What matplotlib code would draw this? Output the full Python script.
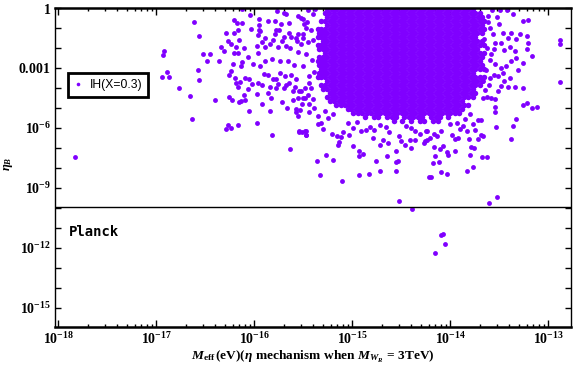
import numpy as np
import matplotlib
matplotlib.use('Agg')
import matplotlib.pyplot as plt
from matplotlib.ticker import FixedLocator, FixedFormatter, LogLocator, NullFormatter
from matplotlib.lines import Line2D

plt.rcParams['mathtext.fontset'] = 'custom'
plt.rcParams['mathtext.rm'] = 'Liberation Serif:bold'
plt.rcParams['mathtext.bf'] = 'Liberation Serif:bold'
plt.rcParams['mathtext.it'] = 'Liberation Serif:italic:bold'

purple = '#8000ff'

# points as (log10 M_eff, log10 eta_B)
left_pts = [
    (-16.92, -2.16), (-16.93, -2.36), (-16.89, -3.21), (-16.94, -3.43), (-16.87, -3.46),
    (-16.77, -4.01), (-17.83, -7.47),
    (-16.13, -0.04), (-16.04, -0.35), (-16.62, -0.70), (-16.57, -1.40), (-16.21, -0.60),
    (-16.18, -0.77), (-16.13, -0.75), (-16.17, -1.12), (-16.21, -1.24), (-16.29, -1.24),
    (-15.95, -0.55), (-15.95, -0.85), (-15.95, -1.12), (-15.96, -1.36), (-15.94, -1.17),
    (-16.03, -1.07), (-15.86, -0.67), (-15.77, -0.15), (-15.70, -0.25), (-15.68, -0.32),
    (-15.79, -0.65), (-15.73, -0.79), (-15.65, -0.75), (-15.56, -0.42), (-15.50, -0.54),
    (-15.46, -0.72), (-15.47, -1.02), (-15.56, -1.29), (-15.58, -1.51), (-15.65, -1.26),
    (-15.75, -1.12), (-15.78, -1.09), (-15.79, -1.32), (-15.70, -1.46), (-15.63, -1.47),
    (-15.72, -1.66), (-15.81, -1.62), (-15.89, -1.52), (-15.92, -1.72), (-15.97, -1.92),
    (-15.96, -2.24), (-15.89, -1.96), (-15.84, -1.82), (-15.76, -1.96), (-15.68, -1.89),
    (-15.64, -2.02), (-15.57, -1.67), (-15.50, -1.51), (-15.45, -1.72), (-16.27, -1.64),
    (-16.24, -1.81), (-16.16, -1.62), (-16.34, -1.96), (-16.31, -2.16), (-16.19, -1.94),
    (-16.21, -2.26), (-16.17, -2.27), (-16.11, -2.02), (-16.06, -2.46), (-16.13, -2.68),
    (-16.14, -2.89), (-16.22, -2.79), (-16.24, -3.13), (-16.52, -2.31), (-16.45, -2.31),
    (-16.48, -2.64), (-16.36, -2.64), (-16.58, -3.09), (-16.56, -3.61), (-16.66, -4.41),
    (-16.64, -5.57), (-16.40, -4.61), (-16.26, -4.48), (-16.23, -4.60), (-16.16, -4.71),
    (-16.14, -4.68), (-16.10, -4.60), (-16.11, -4.36), (-16.17, -3.96), (-16.19, -3.73),
    (-16.26, -3.36), (-16.20, -3.51), (-16.15, -3.69), (-16.10, -3.49), (-16.05, -3.56),
    (-16.02, -3.78), (-16.06, -4.06), (-15.97, -4.31), (-15.92, -4.83), (-15.86, -4.26),
    (-15.84, -3.96), (-15.78, -4.01), (-15.83, -4.53), (-15.84, -5.17), (-16.05, -5.17),
    (-15.97, -5.77), (-16.27, -5.88), (-16.24, -6.02), (-16.29, -6.08), (-16.17, -5.87),
    (-15.82, -6.37), (-15.64, -7.07), (-15.54, -6.18), (-15.51, -6.23), (-15.47, -6.17),
    (-15.47, -6.37), (-15.58, -5.06), (-15.58, -5.22), (-15.56, -5.43), (-15.53, -5.10),
    (-15.72, -4.70), (-15.67, -5.00), (-15.61, -4.63), (-15.55, -4.51), (-15.50, -4.51),
    (-15.45, -4.36), (-15.44, -4.81), (-15.68, -3.86), (-15.70, -3.99), (-15.76, -3.79),
    (-15.92, -3.86), (-15.96, -3.73), (-16.01, -2.79), (-15.94, -2.88), (-15.89, -2.64),
    (-15.82, -2.54), (-15.74, -2.63), (-15.66, -2.66), (-15.60, -2.83), (-15.90, -3.28),
    (-15.86, -3.33), (-15.81, -3.53), (-15.78, -3.53), (-15.74, -3.26), (-15.69, -3.41),
    (-15.63, -3.34), (-15.65, -3.73), (-15.61, -4.16), (-15.59, -3.93), (-15.54, -4.16),
    (-15.48, -3.99), (-15.44, -3.76),
    (-15.52, -0.49), (-15.49, -0.82), (-15.50, -1.32), (-15.52, -1.82), (-15.47, -2.32),
    (-15.50, -2.91), (-15.44, -3.41), (-15.52, -4.16), (-15.51, -4.83), (-15.44, -5.20),
    (-15.39, -5.00), (-15.48, -4.50), (-15.42, -3.99), (-15.40, -4.58), (-15.28, -5.16),
    (-15.25, -5.50), (-15.20, -5.33), (-15.32, -5.75), (-15.30, -6.08), (-15.35, -5.42),
    (-15.40, -0.30), (-15.42, -1.10), (-15.40, -1.60), (-15.41, -2.60), (-15.39, -3.20),
    (-15.56, -2.20), (-15.58, -3.55), (-15.38, -0.05), (-15.45, -0.10),
]

lower_pts = [
    (-15.54, -6.20), (-15.48, -6.17), (-15.47, -6.37), (-15.35, -5.83), (-15.36, -7.64),
    (-15.33, -8.37), (-15.27, -7.37), (-15.20, -7.59), (-15.11, -8.64), (-15.21, -6.33),
    (-15.16, -6.42), (-15.14, -6.72), (-15.15, -6.84), (-15.12, -6.47), (-15.10, -6.20),
    (-14.99, -6.92), (-14.93, -7.39), (-14.93, -7.14), (-14.89, -7.30), (-15.03, -6.37),
    (-14.99, -6.00), (-14.91, -6.17), (-14.86, -6.13), (-14.82, -5.97), (-14.72, -6.84),
    (-14.69, -6.59), (-14.64, -6.75), (-14.65, -7.42), (-14.56, -7.17), (-14.56, -7.72),
    (-14.53, -7.67), (-14.76, -7.64), (-14.72, -8.14), (-14.83, -8.31), (-14.93, -8.37),
    (-14.56, -8.14), (-14.52, -9.68), (-14.46, -6.84), (-14.41, -6.59), (-14.36, -6.59),
    (-14.31, -6.30), (-14.24, -6.59), (-14.27, -6.74), (-14.24, -6.17), (-14.22, -8.47),
    (-14.79, -6.53), (-14.78, -6.13), (-14.63, -6.20), (-14.52, -6.42), (-14.50, -6.67),
    (-14.40, -7.00), (-14.36, -6.17), (-15.05, -5.75), (-14.95, -5.70), (-14.72, -5.85),
    (-14.66, -5.95), (-14.45, -5.90), (-14.40, -6.00),
]

right_pts = [
    (-13.49, -0.12), (-13.42, -0.09), (-13.36, -0.29), (-13.26, -0.67), (-13.21, -0.62),
    (-13.50, -0.79), (-13.46, -1.24), (-13.38, -1.24), (-13.29, -1.29), (-13.22, -1.41),
    (-13.21, -1.76), (-13.41, -1.49), (-13.33, -1.57), (-13.55, -1.74), (-13.48, -1.74),
    (-13.39, -1.96), (-13.45, -2.12), (-13.34, -2.16), (-13.22, -2.07), (-13.17, -2.41),
    (-13.26, -2.74), (-13.33, -2.49), (-13.38, -2.66), (-13.31, -3.08), (-13.43, -2.91),
    (-13.48, -2.99), (-13.46, -3.24), (-13.39, -3.49), (-13.51, -3.41), (-13.56, -3.33),
    (-13.45, -3.66), (-13.48, -3.91), (-13.41, -3.96), (-13.34, -3.96), (-13.26, -4.03),
    (-13.51, -4.16), (-13.55, -4.58), (-13.55, -4.96), (-13.55, -5.20), (-13.26, -4.86),
    (-13.22, -4.76), (-13.17, -5.01), (-13.12, -4.96), (-13.33, -5.55), (-13.36, -5.92),
    (-13.38, -6.55), (-13.54, -5.97), (-13.67, -4.53), (-13.63, -4.46), (-13.59, -4.50),
    (-13.61, -3.86), (-13.67, -3.66), (-12.88, -3.71), (-12.88, -1.60), (-12.88, -1.79),
    (-13.72, -5.63), (-13.69, -5.63), (-13.77, -5.80), (-13.75, -6.13), (-13.69, -6.37),
    (-13.67, -6.42), (-13.72, -6.58), (-13.81, -6.58), (-13.87, -5.92), (-13.83, -6.17),
    (-13.90, -6.05), (-13.92, -6.53), (-13.98, -6.37), (-13.95, -6.55), (-13.95, -7.14),
    (-14.04, -7.20), (-14.02, -7.34), (-14.08, -6.92), (-14.11, -7.04), (-14.17, -6.97),
    (-14.16, -7.42), (-14.18, -7.75), (-14.12, -7.70), (-14.20, -8.47), (-14.10, -8.21),
    (-14.04, -8.31), (-13.83, -8.17), (-13.77, -7.97), (-13.80, -7.34), (-13.79, -6.97),
    (-13.76, -7.00), (-13.68, -7.47), (-13.63, -7.47), (-13.53, -9.44), (-13.61, -9.74),
    (-14.17, -6.33), (-14.25, -6.17), (-14.26, -6.67), (-14.14, -6.42), (-14.10, -6.17),
    (-14.21, -6.50), (-13.62, -0.40), (-13.60, -1.00), (-13.63, -2.00), (-13.60, -2.60),
    (-13.64, -3.10), (-13.58, -0.10), (-13.80, -5.30), (-13.85, -5.55), (-14.00, -5.80),
    (-13.93, -5.75), (-13.62, -0.70), (-13.57, -1.30), (-13.59, -2.30), (-13.55, -2.80),
    (-13.60, -3.50), (-13.52, -0.45), (-13.56, -2.05), (-13.66, -1.55), (-13.65, -4.10),
]

planck_pts = [(-14.39, -10.08), (-14.10, -11.38), (-14.08, -11.30), (-14.06, -11.83), (-14.16, -12.28)]

# dense core: log10 eta_B level and log10 M_eff values along it
core_ly = [0.10, -0.05, -0.25, -0.45, -0.65, -0.85, -1.05, -1.25, -1.45, -1.65,
           -1.85, -2.05, -2.25, -2.45, -2.65, -2.85, -3.05, -3.25, -3.45, -3.65,
           -3.85, -4.05, -4.25, -4.45, -4.65, -4.85, -5.05, -5.25, -5.45, -5.65]
core_lx = [
    [-15.23, -15.19, -15.14, -15.10, -15.05, -15.01, -14.96, -14.92, -14.87, -14.83, -14.78, -14.74, -14.69, -14.65, -14.60, -14.56, -14.51, -14.47, -14.42, -14.38, -14.33, -14.29, -14.24, -14.20, -14.15, -14.11, -14.06, -14.02, -13.97, -13.93, -13.88, -13.84, -13.79, -13.75],
    [-15.26, -15.21, -15.17, -15.12, -15.08, -15.03, -14.99, -14.94, -14.90, -14.85, -14.81, -14.76, -14.72, -14.67, -14.63, -14.58, -14.54, -14.49, -14.45, -14.40, -14.36, -14.31, -14.27, -14.22, -14.18, -14.13, -14.09, -14.04, -14.00, -13.95, -13.91, -13.86, -13.82, -13.77],
    [-15.28, -15.24, -15.19, -15.14, -15.10, -15.05, -15.01, -14.96, -14.92, -14.87, -14.83, -14.78, -14.74, -14.69, -14.65, -14.60, -14.56, -14.51, -14.47, -14.42, -14.38, -14.33, -14.29, -14.24, -14.20, -14.15, -14.11, -14.06, -14.02, -13.97, -13.93, -13.88, -13.84, -13.79, -13.75, -13.70],
    [-15.26, -15.21, -15.17, -15.12, -15.08, -15.03, -14.99, -14.94, -14.90, -14.85, -14.81, -14.76, -14.72, -14.67, -14.63, -14.58, -14.54, -14.49, -14.45, -14.40, -14.36, -14.31, -14.27, -14.22, -14.18, -14.13, -14.09, -14.04, -14.00, -13.95, -13.91, -13.86, -13.82, -13.77, -13.72, -13.68],
    [-15.32, -15.28, -15.23, -15.19, -15.14, -15.10, -15.05, -15.01, -14.96, -14.92, -14.87, -14.83, -14.78, -14.74, -14.69, -14.65, -14.60, -14.56, -14.51, -14.47, -14.42, -14.38, -14.33, -14.29, -14.24, -14.20, -14.15, -14.11, -14.06, -14.02, -13.97, -13.93, -13.88, -13.84, -13.79, -13.75, -13.70, -13.66],
    [-15.26, -15.21, -15.17, -15.12, -15.08, -15.03, -14.99, -14.94, -14.90, -14.85, -14.81, -14.76, -14.72, -14.67, -14.63, -14.58, -14.54, -14.49, -14.45, -14.40, -14.36, -14.31, -14.27, -14.22, -14.18, -14.13, -14.09, -14.04, -14.00, -13.95, -13.91, -13.86, -13.82, -13.77, -13.73, -13.68],
    [-15.35, -15.32, -15.28, -15.23, -15.19, -15.14, -15.10, -15.05, -15.01, -14.96, -14.92, -14.87, -14.83, -14.78, -14.74, -14.69, -14.65, -14.60, -14.56, -14.51, -14.47, -14.42, -14.38, -14.33, -14.29, -14.24, -14.20, -14.15, -14.11, -14.06, -14.02, -13.97, -13.93, -13.88, -13.84, -13.79, -13.75, -13.70, -13.66],
    [-15.34, -15.30, -15.26, -15.21, -15.17, -15.12, -15.08, -15.03, -14.99, -14.94, -14.90, -14.85, -14.81, -14.76, -14.72, -14.67, -14.63, -14.58, -14.54, -14.49, -14.45, -14.40, -14.36, -14.31, -14.27, -14.22, -14.18, -14.13, -14.09, -14.04, -14.00, -13.95, -13.91, -13.86, -13.82, -13.77, -13.73, -13.68],
    [-15.35, -15.32, -15.28, -15.23, -15.19, -15.14, -15.10, -15.05, -15.01, -14.96, -14.92, -14.87, -14.83, -14.78, -14.74, -14.69, -14.65, -14.60, -14.56, -14.51, -14.47, -14.42, -14.38, -14.33, -14.29, -14.24, -14.20, -14.15, -14.11, -14.06, -14.02, -13.97, -13.93, -13.88, -13.84, -13.79, -13.75],
    [-15.30, -15.26, -15.21, -15.17, -15.12, -15.08, -15.03, -14.99, -14.94, -14.90, -14.85, -14.81, -14.76, -14.72, -14.67, -14.63, -14.58, -14.54, -14.49, -14.45, -14.40, -14.36, -14.31, -14.27, -14.22, -14.18, -14.13, -14.09, -14.04, -14.00, -13.95, -13.91, -13.86, -13.82, -13.77, -13.73, -13.68],
    [-15.35, -15.32, -15.28, -15.23, -15.19, -15.14, -15.10, -15.05, -15.01, -14.96, -14.92, -14.87, -14.83, -14.78, -14.74, -14.69, -14.65, -14.60, -14.56, -14.51, -14.47, -14.42, -14.38, -14.33, -14.29, -14.24, -14.20, -14.15, -14.11, -14.06, -14.02, -13.97, -13.93, -13.88, -13.84, -13.79, -13.75, -13.70, -13.66],
    [-15.34, -15.30, -15.26, -15.21, -15.17, -15.12, -15.08, -15.03, -14.99, -14.94, -14.90, -14.85, -14.81, -14.76, -14.72, -14.67, -14.63, -14.58, -14.54, -14.49, -14.45, -14.40, -14.36, -14.31, -14.27, -14.22, -14.18, -14.13, -14.09, -14.04, -14.00, -13.95, -13.91, -13.86, -13.82, -13.77, -13.73],
    [-15.28, -15.23, -15.19, -15.14, -15.10, -15.05, -15.01, -14.96, -14.92, -14.87, -14.83, -14.78, -14.74, -14.69, -14.65, -14.60, -14.56, -14.51, -14.47, -14.42, -14.38, -14.33, -14.29, -14.24, -14.20, -14.15, -14.11, -14.06, -14.02, -13.97, -13.93, -13.88, -13.84, -13.79, -13.75, -13.70, -13.66],
    [-15.34, -15.30, -15.26, -15.21, -15.17, -15.12, -15.08, -15.03, -14.99, -14.94, -14.90, -14.85, -14.81, -14.76, -14.72, -14.67, -14.63, -14.58, -14.54, -14.49, -14.45, -14.40, -14.36, -14.31, -14.27, -14.22, -14.18, -14.13, -14.09, -14.04, -14.00, -13.95, -13.91, -13.86, -13.82, -13.77, -13.73, -13.68],
    [-15.35, -15.32, -15.28, -15.23, -15.19, -15.14, -15.10, -15.05, -15.01, -14.96, -14.92, -14.87, -14.83, -14.78, -14.74, -14.69, -14.65, -14.60, -14.56, -14.51, -14.47, -14.42, -14.38, -14.33, -14.29, -14.24, -14.20, -14.15, -14.11, -14.06, -14.02, -13.97, -13.93, -13.88, -13.84, -13.79, -13.75, -13.70],
    [-15.34, -15.30, -15.26, -15.21, -15.17, -15.12, -15.08, -15.03, -14.99, -14.94, -14.90, -14.85, -14.81, -14.76, -14.72, -14.67, -14.63, -14.58, -14.54, -14.49, -14.45, -14.40, -14.36, -14.31, -14.27, -14.22, -14.18, -14.13, -14.09, -14.04, -14.00, -13.95, -13.91, -13.86, -13.82, -13.77, -13.73, -13.68],
    [-15.32, -15.28, -15.23, -15.19, -15.14, -15.10, -15.05, -15.01, -14.96, -14.92, -14.87, -14.83, -14.78, -14.74, -14.69, -14.65, -14.60, -14.56, -14.51, -14.47, -14.42, -14.38, -14.33, -14.29, -14.24, -14.20, -14.15, -14.11, -14.06, -14.02, -13.97, -13.93, -13.88, -13.84, -13.79, -13.75, -13.70, -13.66],
    [-15.34, -15.30, -15.26, -15.21, -15.17, -15.12, -15.08, -15.03, -14.99, -14.94, -14.90, -14.85, -14.81, -14.76, -14.72, -14.67, -14.63, -14.58, -14.54, -14.49, -14.45, -14.40, -14.36, -14.31, -14.27, -14.22, -14.18, -14.13, -14.09, -14.04, -14.00, -13.95, -13.91, -13.86, -13.82, -13.77],
    [-15.35, -15.32, -15.28, -15.23, -15.19, -15.14, -15.10, -15.05, -15.01, -14.96, -14.92, -14.87, -14.83, -14.78, -14.74, -14.69, -14.65, -14.60, -14.56, -14.51, -14.47, -14.42, -14.38, -14.33, -14.29, -14.24, -14.20, -14.15, -14.11, -14.06, -14.02, -13.97, -13.93, -13.88, -13.84, -13.79, -13.75, -13.70, -13.66],
    [-15.26, -15.21, -15.17, -15.12, -15.08, -15.03, -14.99, -14.94, -14.90, -14.85, -14.81, -14.76, -14.72, -14.67, -14.63, -14.58, -14.54, -14.49, -14.45, -14.40, -14.36, -14.31, -14.27, -14.22, -14.18, -14.13, -14.09, -14.04, -14.00, -13.95, -13.91, -13.86, -13.82, -13.77, -13.73, -13.68],
    [-15.32, -15.28, -15.23, -15.19, -15.14, -15.10, -15.05, -15.01, -14.96, -14.92, -14.87, -14.83, -14.78, -14.74, -14.69, -14.65, -14.60, -14.56, -14.51, -14.47, -14.42, -14.38, -14.33, -14.29, -14.24, -14.20, -14.15, -14.11, -14.06, -14.02, -13.97, -13.93, -13.88, -13.84, -13.79, -13.75, -13.70],
    [-15.30, -15.26, -15.21, -15.17, -15.12, -15.08, -15.03, -14.99, -14.94, -14.90, -14.85, -14.81, -14.76, -14.72, -14.67, -14.63, -14.58, -14.54, -14.49, -14.45, -14.40, -14.36, -14.31, -14.27, -14.22, -14.18, -14.13, -14.09, -14.04, -14.00, -13.95, -13.91, -13.86, -13.82, -13.77],
    [-15.23, -15.19, -15.14, -15.10, -15.05, -15.01, -14.96, -14.92, -14.87, -14.83, -14.78, -14.74, -14.69, -14.65, -14.60, -14.56, -14.51, -14.47, -14.42, -14.38, -14.33, -14.29, -14.24, -14.20, -14.15, -14.11, -14.06, -14.02, -13.97, -13.93, -13.88, -13.84, -13.79, -13.75],
    [-15.26, -15.21, -15.17, -15.12, -15.08, -15.03, -14.99, -14.94, -14.90, -14.85, -14.81, -14.76, -14.72, -14.67, -14.63, -14.58, -14.54, -14.49, -14.45, -14.40, -14.36, -14.31, -14.27, -14.22, -14.18, -14.13, -14.09, -14.04, -14.00, -13.95, -13.91, -13.86, -13.82, -13.77],
    [-15.23, -15.19, -15.14, -15.10, -15.05, -15.01, -14.96, -14.92, -14.87, -14.83, -14.78, -14.74, -14.69, -14.65, -14.60, -14.56, -14.51, -14.47, -14.42, -14.38, -14.33, -14.29, -14.24, -14.20, -14.15, -14.11, -14.06, -14.02, -13.97, -13.93, -13.88],
    [-15.17, -15.12, -15.08, -15.03, -14.99, -14.94, -14.90, -14.85, -14.81, -14.76, -14.72, -14.67, -14.63, -14.58, -14.54, -14.49, -14.45, -14.40, -14.36, -14.31, -14.27, -14.22, -14.18, -14.13, -14.09, -14.04, -14.00, -13.95, -13.91, -13.86, -13.82],
    [-15.05, -15.01, -14.96, -14.92, -14.87, -14.83, -14.78, -14.74, -14.69, -14.65, -14.60, -14.56, -14.51, -14.47, -14.42, -14.38, -14.33, -14.29, -14.24, -14.20, -14.15, -14.11, -14.06, -14.02, -13.97, -13.93, -13.88],
    [-14.99, -14.94, -14.90, -14.85, -14.81, -14.76, -14.72, -14.67, -14.63, -14.58, -14.54, -14.49, -14.45, -14.40, -14.36, -14.31, -14.27, -14.22, -14.18, -14.13, -14.09, -14.04, -14.00, -13.95, -13.91],
    [-14.87, -14.78, -14.74, -14.65, -14.60, -14.56, -14.47, -14.42, -14.38, -14.33, -14.29, -14.20, -14.15, -14.11, -14.02],
    [-14.58, -14.49, -14.40, -14.31, -14.27, -14.18, -14.13],
]

planck_level = 1.05e-10
x_ticks = [1e-18, 1e-17, 1e-16, 1e-15, 1e-14, 1e-13]
x_labels = [r'$\mathbf{10^{-18}}$', r'$\mathbf{10^{-17}}$', r'$\mathbf{10^{-16}}$',
            r'$\mathbf{10^{-15}}$', r'$\mathbf{10^{-14}}$', r'$\mathbf{10^{-13}}$']
y_ticks = [1, 1e-3, 1e-6, 1e-9, 1e-12, 1e-15]
y_labels = [r'$\mathbf{1}$', r'$\mathbf{0.001}$', r'$\mathbf{10^{-6}}$',
            r'$\mathbf{10^{-9}}$', r'$\mathbf{10^{-12}}$', r'$\mathbf{10^{-15}}$']
y_minor = [1e-1, 1e-2, 1e-4, 1e-5, 1e-7, 1e-8, 1e-10, 1e-11, 1e-13, 1e-14]

sx, sy = [], []
for pts in (left_pts, lower_pts, right_pts, planck_pts):
    for a, b in pts:
        sx.append(a)
        sy.append(b)
cx, cy = [], []
for lev, row in zip(core_ly, core_lx):
    for a in row:
        cx.append(a)
        cy.append(lev)

fig = plt.figure(figsize=(5.76, 3.70), dpi=100)
ax = fig.add_axes([55 / 576, 1 - 327 / 370, 516 / 576, 319 / 370])
ax.set_xscale('log')
ax.set_yscale('log')
ax.plot(10.0 ** np.array(cx), 10.0 ** np.array(cy), 'o', ms=3.95, mfc=purple, mec='none')
ax.plot(10.0 ** np.array(sx), 10.0 ** np.array(sy), 'o', ms=3.5, mfc=purple, mec='none')
ax.axhline(planck_level, color='black', lw=1.0)

ax.set_xlim(10 ** -18.034, 10 ** -12.77)
ax.set_ylim(10 ** -15.97, 1)

ax.xaxis.set_major_locator(FixedLocator(x_ticks))
ax.xaxis.set_major_formatter(FixedFormatter(x_labels))
ax.xaxis.set_minor_locator(LogLocator(base=10, subs=range(2, 10), numticks=30))
ax.xaxis.set_minor_formatter(NullFormatter())
ax.yaxis.set_major_locator(FixedLocator(y_ticks))
ax.yaxis.set_major_formatter(FixedFormatter(y_labels))
ax.yaxis.set_minor_locator(FixedLocator(y_minor))
ax.yaxis.set_minor_formatter(NullFormatter())

ax.tick_params(which='both', direction='in', top=True, right=True, width=1.0, labelsize=10)
ax.tick_params(axis='x', which='major', length=5, pad=3)
ax.tick_params(axis='x', which='minor', length=2.5)
ax.tick_params(axis='y', which='both', length=4, pad=3)

for side in ['top', 'bottom']:
    ax.spines[side].set_linewidth(1.8)
for side in ['left', 'right']:
    ax.spines[side].set_linewidth(1.0)

ax.set_ylabel(r'$\eta_B$', fontsize=9)
ax.yaxis.set_label_coords(-0.078, 0.51)
ax.set_xlabel(r'$M_{\mathbf{eff}}\,\mathbf{(eV)(}\eta\ \mathbf{mechanism\ when\ }M_{W_R}\mathbf{\,=\,3TeV)}$',
              fontsize=9.6)
ax.xaxis.set_label_coords(0.5, -0.07)

ax.text(0.027, 0.298, 'Planck', transform=ax.transAxes, family='DejaVu Sans Mono',
        weight='bold', fontsize=10, va='center', ha='left')

handle = Line2D([], [], ls='none', marker='o', ms=2.6, mfc=purple, mec='none')
leg = ax.legend([handle], ['IH(X=0.3)'], loc='upper left', bbox_to_anchor=(0.025, 0.797),
                borderaxespad=0, fancybox=False, framealpha=1, edgecolor='black',
                handlelength=0.7, handletextpad=0.6, borderpad=0.5,
                prop={'family': 'Liberation Sans', 'size': 8.7})
leg.get_frame().set_linewidth(2.0)

fig.savefig('out.png', dpi=100)
